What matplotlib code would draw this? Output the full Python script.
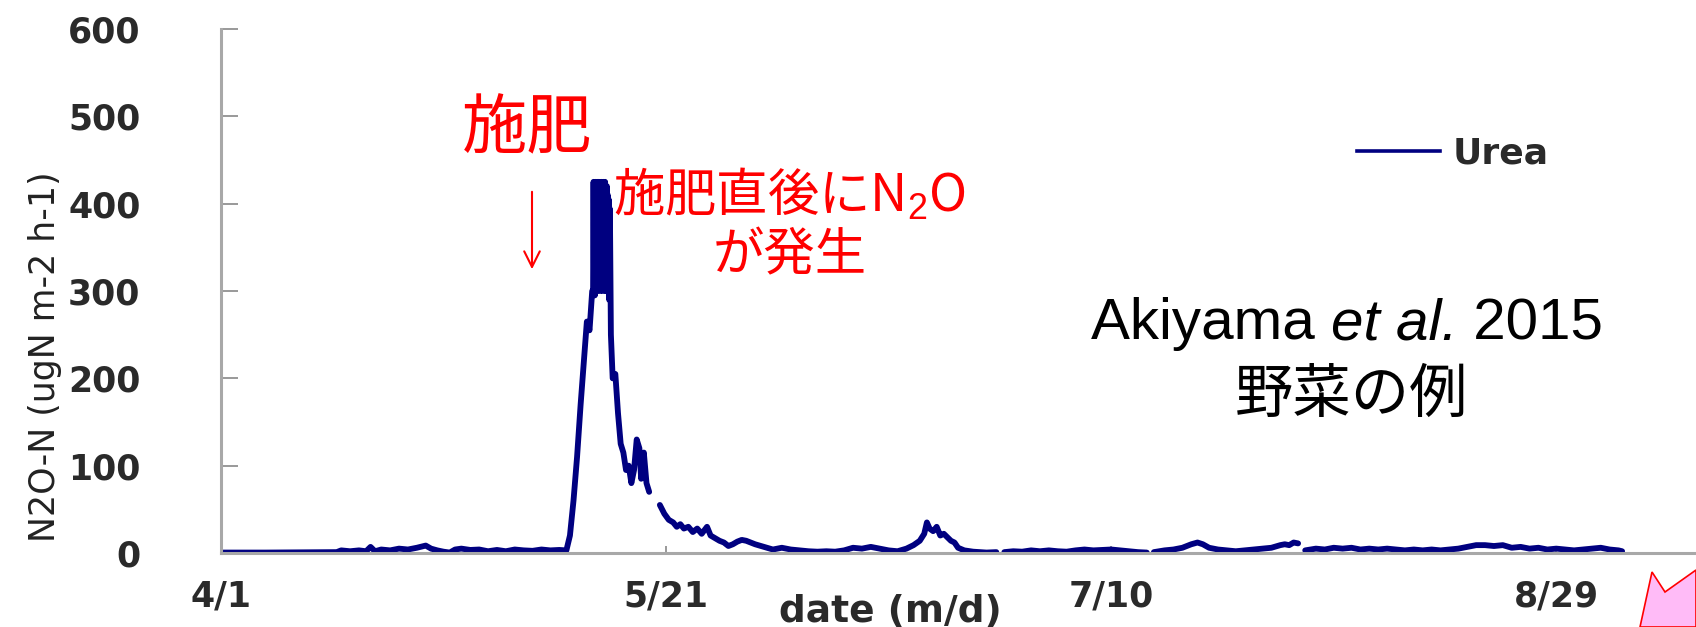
import matplotlib
matplotlib.use("Agg")
import matplotlib.pyplot as plt
import numpy as np
from matplotlib.patches import Polygon
from matplotlib.lines import Line2D

# ---------------- data ----------------
# days since 4/1, N2O-N flux (ugN m-2 h-1); NaN = gap in the record
days = [0, 5, 10, 13, 13.5, 14.5, 15.5, 16.3, 16.8, 17.3, 18, 19, 20, 21, 22, 23, 23.6, 24.3,
        25, 25.7, 26.3, 27, 28, 29, 30, 31, 32, 33, 34, 35, 36, 37, 38, 38.8,
        39.2, 39.6, 40.0, 40.4, 40.8, 41.1, 41.4, 41.7,
        41.8, 41.85, 41.9, 41.95, 42.0, 42.05, 42.1, 42.15, 42.2, 42.25, 42.3, 42.35, 42.4,
        42.45, 42.5, 42.55, 42.6, 42.65, 42.7, 42.75, 42.8, 42.85, 42.9, 42.95, 43.0, 43.05,
        43.1, 43.15, 43.2, 43.25, 43.3, 43.35, 43.4, 43.45, 43.5, 43.55, 43.6, 43.65, 43.7,
        43.8, 44.0, 44.3, 44.6, 44.9, 45.2, 45.5, 45.8, 46.1, 46.4, 46.7, 47.0,
        47.2, 47.5, 47.8, 48.1, 48.7,
        49.3, 49.8, 50.3, 50.8, 51.2, 51.6, 52.0, 52.5, 53.0, 53.5, 54.0, 54.6, 55.0, 55.5,
        56.0, 56.5, 57.0, 57.5, 58.0, 58.5, 59.0, 59.5, 60.0, 61, 62, 63, 64, 65, 66, 67, 68,
        69, 70, 71, 72, 73, 74, 75, 76, 77, 77.8, 78.5, 79.0, 79.3, 79.6, 80.0, 80.4, 80.8,
        81.2, 81.6, 82.0, 82.4, 82.8, 83.5, 84.5, 86, 87.1, 87.5,
        88, 89, 90, 91, 92, 93, 94, 95, 96, 97, 98, 99, 100, 101, 102, 103, 104, 104.4,
        104.8, 106, 107, 108, 109, 109.7, 110.3, 111, 112, 113, 114, 115, 116, 117, 118, 119,
        119.5, 120, 120.5, 121, 121.4,
        121.8, 123, 124, 125, 126, 127, 128, 129, 130, 131, 132, 133, 134, 135, 136, 137, 138,
        139, 140, 141, 142, 143, 144, 145, 146, 147, 148, 149, 150, 151, 152, 153, 154, 155,
        156, 157, 157.4]
flux = [0.5, 0.5, 0.8, 1, 3, 2, 3, 2, 7, 2, 4, 3, 5, 4, 6, 8.5, 5, 3,
        1.5, 0.5, 4, 5, 3.5, 4, 2, 3.5, 2, 4, 3, 2.5, 4, 3, 3.5, 3,
        20, 60, 110, 170, 225, 265, 255, 300,
        300, 425, 310, 420, 295, 425, 300, 418, 305, 425, 300, 422, 310,
        425, 330, 415, 300, 410, 320, 425, 305, 420, 300, 425, 310, 418,
        325, 425, 300, 415, 310, 420, 300, 410, 320, 405, 290, 395, 380,
        250, 200, 205, 160, 125, 115, 95, 100, 80, 95, 130, 120,
        85, 115, 80, 70, np.nan,
        55, 45, 38, 35, 30, 33, 28, 30, 24, 28, 22, 30, 20, 17,
        14, 12, 8, 10, 13, 15, 14, 12, 10, 7, 4, 6, 4, 3, 2, 1.5, 2,
        1.5, 3, 6, 5, 7, 5, 3, 2, 5, 9, 14, 22, 35, 28, 25, 30, 20,
        22, 18, 14, 12, 6, 3, 1.5, 0.5, 1, np.nan,
        1, 2, 1.5, 3, 2, 3, 2, 1.5, 3, 4, 3, 3.5, 4, 3, 2, 1, 0.5, np.nan,
        1, 3, 4, 6, 10, 12, 10, 6, 4, 3, 2, 3, 4, 5, 6, 9,
        10, 9, 12, 11, np.nan,
        3, 5, 4, 6, 5, 6, 4, 5, 4, 5, 4, 3, 4, 3, 4, 3, 4,
        5, 7, 9, 9, 8, 9, 6, 7, 5, 6, 4, 5, 4, 3, 4, 5, 6,
        4, 3, 2]
series_name = "Urea"
tick_days = [0, 50, 100, 150]
tick_labels = ["4/1", "5/21", "7/10", "8/29"]
y_ticks = [0, 100, 200, 300, 400, 500, 600]

# ---------------- figure ----------------
plt.rcParams["mathtext.fontset"] = "custom"
plt.rcParams["mathtext.rm"] = "Liberation Sans"
plt.rcParams["mathtext.it"] = "Liberation Sans:italic"

W, H = 1696, 627
fig = plt.figure(figsize=(W / 100, H / 100), dpi=100)
ax = fig.add_axes([221 / W, 74 / H, 1 - 221 / W, 524 / H])

line_color = "#000080"
ax.plot(days, flux, color=line_color, lw=4.2, solid_joinstyle="round", solid_capstyle="round")

ax.set_xlim(0, 165.7)
ax.set_ylim(0, 600)
for s in ["top", "right"]:
    ax.spines[s].set_visible(False)
for s in ["left", "bottom"]:
    ax.spines[s].set_color("#a8a8a8")
    ax.spines[s].set_linewidth(2.2)

tick_font = dict(family="DejaVu Sans", weight="bold", size=25)
ax.set_yticks(y_ticks)
ax.set_yticklabels([str(v) for v in y_ticks], fontdict=tick_font, color="#2a2a2a")
ax.tick_params(axis="y", direction="in", length=12, width=1.2, color="#888888", pad=58)
ax.set_xticks(tick_days)
ax.set_xticklabels(tick_labels, fontdict=tick_font, color="#2a2a2a")
ax.tick_params(axis="x", direction="in", length=5, width=1.2, color="#888888", pad=19)

fig.text(45 / W, 1 - 357 / H, "N2O-N (ugN m-2 h-1)", rotation=90, ha="center", va="center",
         fontsize=25, family="DejaVu Sans", color="#222222")
fig.text(890 / W, 1 - 612 / H, "date (m/d)", ha="center", va="center",
         fontsize=27, family="DejaVu Sans", weight="bold", color="#2a2a2a")

# legend
h = [Line2D([0], [0], color=line_color, lw=2.6)]
ax.legend(h, [series_name], loc="center left", bbox_to_anchor=(1357 / W, 1 - 154 / H),
          bbox_transform=fig.transFigure, frameon=False, handlelength=2.3,
          handletextpad=0.35, borderpad=0, borderaxespad=0,
          prop=dict(family="DejaVu Sans", weight="bold", size=26), labelcolor="#2a2a2a")

# annotations
cjk = ["Noto Sans CJK JP", "DejaVu Sans"]
fig.text(527 / W, 1 - 130 / H, "施肥", ha="center", va="center", fontsize=47,
         family=cjk, color="red")
ax.annotate("", xy=(532 / W, 1 - 272 / H), xytext=(532 / W, 1 - 189 / H),
            xycoords="figure fraction", textcoords="figure fraction",
            arrowprops=dict(arrowstyle="->", color="red", lw=1.5, mutation_scale=28))
fig.text(790 / W, 1 - 195 / H, "施肥直後にN$_2$O", ha="center", va="center", fontsize=37,
         family=cjk, color="red")
fig.text(790 / W, 1 - 256 / H, "が発生", ha="center", va="center", fontsize=37,
         family=cjk, color="red")

# "Akiyama et al. 2015" with italic part, laid out piece by piece
renderer = fig.canvas.get_renderer()
pieces = [("Akiyama ", "normal"), ("et al.", "italic"), (" 2015", "normal")]
objs = []
for txt, style in pieces:
    t = fig.text(0, 1 - 324 / H, txt, ha="left", va="center", fontsize=42,
                 family="Liberation Sans", style=style, color="black")
    objs.append(t)
widths = [o.get_window_extent(renderer).width for o in objs]
x0 = 1347 - sum(widths) / 2
for o, w in zip(objs, widths):
    o.set_x(x0 / W)
    x0 += w

fig.text(1352 / W, 1 - 395 / H, "野菜の例", ha="center", va="center", fontsize=42,
         family=cjk, color="black")

# partial pink callout at lower right
pts = [(1640, 627), (1652, 572), (1665, 592), (1696, 570), (1696, 627)]
poly = Polygon([(x / W, 1 - y / H) for x, y in pts], closed=True, transform=fig.transFigure,
               facecolor="#ffbbf7", edgecolor="red", lw=1.2, clip_on=False)
fig.patches.append(poly)

fig.savefig("out.png", dpi=100)
